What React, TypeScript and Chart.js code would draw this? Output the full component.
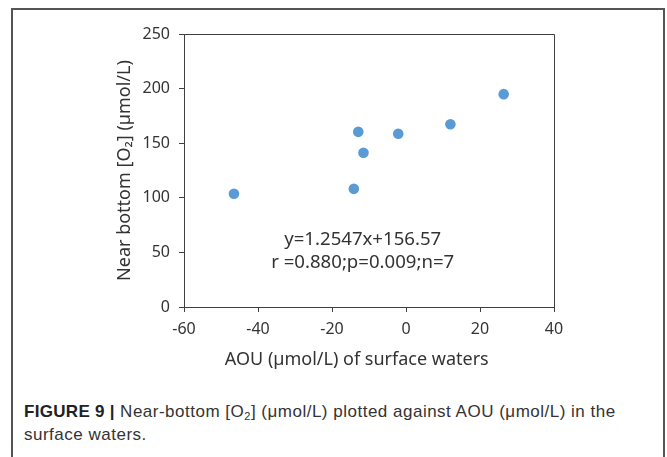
import React, { useEffect, useRef } from "react";
import { Chart, registerables } from "chart.js";

Chart.register(...registerables);

// ---- data ----
const aouSurface = [-46.5, -14.1, -12.9, -11.5, -2.1, 12.0, 26.4];
const o2NearBottom = [103.7, 108.2, 160.4, 141.2, 158.6, 167.4, 194.9];
const xTickValues = [-60, -40, -20, 0, 20, 40];
const yTickValues = [0, 50, 100, 150, 200, 250];
const xAxisTitle = "AOU (µmol/L) of surface waters";
const yAxisTitle = "Near bottom [O₂] (µmol/L)";
const regressionText = ["y=1.2547x+156.57", "r =0.880;p=0.009;n=7"];
const regressionAnchorX = -11.7;
const regressionAnchorY = [61.6, 40.5];
const xTitleAnchorX = -13.3;

const FONT = "'Noto Sans', 'DejaVu Sans', sans-serif";
const TEXT = "#333333";
const AXIS = "#404040";

const framePlugin = {
  id: "frameAndNote",
  afterDraw(chart: any) {
    const { ctx, chartArea: a, scales } = chart;
    ctx.save();
    ctx.strokeStyle = AXIS;
    ctx.lineWidth = 1;
    ctx.beginPath();
    ctx.moveTo(a.left, Math.round(a.top) + 0.5);
    ctx.lineTo(Math.round(a.right) + 0.5, Math.round(a.top) + 0.5);
    ctx.lineTo(Math.round(a.right) + 0.5, a.bottom);
    ctx.stroke();
    ctx.fillStyle = TEXT;
    ctx.textAlign = "center";
    ctx.textBaseline = "middle";
    ctx.font = `18.6px ${FONT}`;
    const cx = scales.x.getPixelForValue(regressionAnchorX);
    regressionText.forEach((t, i) => {
      ctx.fillText(t, cx, scales.y.getPixelForValue(regressionAnchorY[i]));
    });
    // x-axis title
    ctx.font = `18px ${FONT}`;
    ctx.fillText(xAxisTitle, scales.x.getPixelForValue(xTitleAnchorX), a.bottom + 53);
    ctx.restore();
  },
};

export default function App() {
  const ref = useRef<HTMLCanvasElement | null>(null);

  useEffect(() => {
    if (!ref.current) return;
    const chart = new Chart(ref.current, {
      type: "scatter",
      data: {
        datasets: [
          {
            data: aouSurface.map((x, i) => ({ x, y: o2NearBottom[i] })),
            backgroundColor: "#5b9bd5",
            borderWidth: 0,
            pointRadius: 5.3,
            pointHoverRadius: 5.3,
          },
        ],
      },
      options: {
        responsive: false,
        animation: false,
        events: [],
        layout: { padding: { left: 100, top: 34, right: 113, bottom: 0 } },
        plugins: { legend: { display: false }, tooltip: { enabled: false } },
        scales: {
          x: {
            type: "linear",
            min: xTickValues[0],
            max: xTickValues[xTickValues.length - 1],
            afterBuildTicks: (s: any) => {
              s.ticks = xTickValues.map((v) => ({ value: v }));
            },
            afterFit: (s: any) => {
              s.height = 73;
            },
            grid: {
              drawOnChartArea: false,
              drawTicks: true,
              tickLength: 5,
              color: AXIS,
            },
            border: { display: true, color: AXIS, width: 1 },
            ticks: {
              color: TEXT,
              padding: 8,
              font: { family: FONT, size: 16 },
              maxRotation: 0,
            },
            title: { display: false },
          },
          y: {
            type: "linear",
            min: yTickValues[0],
            max: yTickValues[yTickValues.length - 1],
            afterBuildTicks: (s: any) => {
              s.ticks = yTickValues.map((v) => ({ value: v }));
            },
            afterFit: (s: any) => {
              s.width = 84;
            },
            grid: {
              drawOnChartArea: false,
              drawTicks: true,
              tickLength: 5,
              color: AXIS,
            },
            border: { display: true, color: AXIS, width: 1 },
            ticks: {
              color: TEXT,
              padding: 9,
              font: { family: FONT, size: 16 },
            },
            title: {
              display: true,
              text: yAxisTitle,
              color: TEXT,
              font: { family: FONT, size: 18 },
              padding: { top: 14, bottom: 0 },
            },
          },
        },
      },
      plugins: [framePlugin],
    } as any);
    return () => chart.destroy();
  }, []);

  return (
    <div style={{ position: "absolute", left: 0, top: 0, width: 667, height: 457, overflow: "hidden", background: "#fff" }}>
      <div
        style={{
          position: "absolute",
          left: 11,
          top: 8,
          width: 654,
          height: 470,
          boxSizing: "border-box",
          borderLeft: "2px solid #555",
          borderTop: "2px solid #555",
          borderRight: "2px solid #555",
        }}
      />
      <canvas
        ref={ref}
        width={667}
        height={380}
        style={{ position: "absolute", left: 0, top: 0, width: 667, height: 380 }}
      />
      <div
        style={{
          position: "absolute",
          left: 24,
          top: 400,
          width: 640,
          fontFamily: "'Liberation Sans', Arial, sans-serif",
          fontSize: 17,
          letterSpacing: "0.5px",
          lineHeight: "23px",
          color: "#333",
          whiteSpace: "nowrap",
        }}
      >
        <div>
          <b style={{ color: "#222", letterSpacing: "0.3px" }}>FIGURE 9 |</b> Near-bottom [O<sub style={{ fontSize: 11, verticalAlign: "-3px", lineHeight: 0 }}>2</sub>] (μmol/L) plotted against AOU (μmol/L) in the
        </div>
        <div>surface waters.</div>
      </div>
    </div>
  );
}
